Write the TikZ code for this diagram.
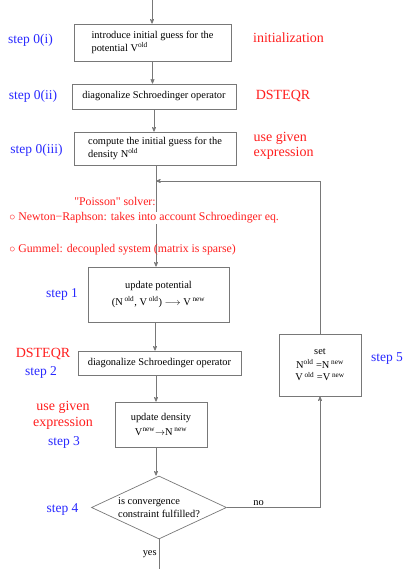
\documentclass[tikz,border=0pt]{standalone}
\usepackage{fontspec}
\setmainfont{Liberation Serif}[Ligatures=TeXOff]
\usetikzlibrary{arrows,shapes.geometric}
\definecolor{stepblue}{RGB}{40,40,255}
\definecolor{notered}{RGB}{255,30,30}
\definecolor{linegray}{RGB}{120,120,120}
\newcommand{\up}[1]{\textsuperscript{#1}}

\begin{document}
\begin{tikzpicture}[x=1pt,y=-1pt,>=stealth',line width=0.7pt]
          \tikzstyle{block}=[draw=linegray,rectangle,inner sep=0pt,font=\fontsize{10.4}{12.5}\selectfont]
          \tikzstyle{decision}=[draw=linegray,diamond,aspect=2.14,inner sep=0pt,align=left,font=\fontsize{10.4}{12.5}\selectfont]
          \tikzstyle{steplabel}=[text=stepblue,font=\fontsize{13.5}{15}\selectfont]
          \tikzstyle{method}=[text=notered,font=\fontsize{14}{15.5}\selectfont]
          \tikzstyle{remark}=[text=notered,font=\fontsize{11.8}{14}\selectfont,inner sep=1pt]
          \tikzstyle{flow}=[draw=linegray,->]
          \useasboundingbox (0,0) rectangle (404,569);

          % boxes of the scheme
          \node[block,align=left,minimum width=157,minimum height=37] (guess)  at (152.5,42.5) {introduce initial guess for the\\potential V\up{old}};
          \node[block,minimum width=164,minimum height=25]            (diag0)  at (154,96.5)   {diagonalize Schroedinger operator};
          \node[block,align=left,minimum width=162,minimum height=33] (dens0)  at (155,148.5)  {compute the initial guess for the\\density N\up{old}};
          \node[block,align=center,minimum width=141,minimum height=55] (pot)  at (158.5,294.5) {update potential\\[4pt](N\,\up{old}, V\,\up{old}) $\longrightarrow$ V\,\up{new}};
          \node[block,minimum width=163,minimum height=24]            (diag)   at (159.5,363)   {diagonalize Schroedinger operator};
          \node[block,align=center,minimum width=92,minimum height=45] (dens)  at (161,424.5)   {update density\\[2pt]V\up{new}$\rightarrow$N\,\up{new}};
          \node[block,align=center,minimum width=82,minimum height=62] (set)   at (320,365)     {set\\[1pt]N\up{old} =N\,\up{new}\\V\,\up{old} =V\,\up{new}};
          \node[decision,minimum width=135,minimum height=63]         (test)   at (159,507.5)   {is convergence\\constraint fulfilled?};

          \coordinate (spine) at (155,0);
          \coordinate (entry) at (152,0);
          \coordinate (join)  at (156,181);
          \coordinate (exit)  at (159,569);

          % connectors
          \draw[flow] (entry) -- (entry |- guess.north);
          \draw[flow] (guess.south) -- (guess.south |- diag0.north);
          \draw[flow] (diag0.south) -- (diag0.south |- dens0.north);
          \draw[flow] (dens0.south -| join) -- (join |- pot.north);
          \draw[flow] (spine |- pot.south) -- (spine |- diag.north);
          \draw[flow] (join |- diag.south) -- (join |- dens.north);
          \draw[flow] (join |- dens.south) -- (join |- test.north);
          \draw[flow] (set.north) |- (join);
          \draw[flow] (test.east) -| node[pos=0.17,above,text=black,inner sep=2pt,font=\fontsize{10.4}{12}\selectfont] {no} (set.south);
          \draw[draw=linegray] (test.south) -- node[left,text=black,inner sep=2pt,font=\fontsize{10.4}{12}\selectfont] {yes} (exit);

          % step numbers
          \node[steplabel] (s0i)   at (30.5,40)  {step 0(i)};
          \node[steplabel] (s0ii)  at (33,96)    {step 0(ii)};
          \node[steplabel] (s0iii) at (36.5,150) {step 0(iii)};
          \node[steplabel] (s1)    at (62,294)   {step 1};
          \node[steplabel] (s2)    at (41,372)   {step 2};
          \node[steplabel] (s3)    at (64,442)   {step 3};
          \node[steplabel] (s4)    at (62.5,509) {step 4};
          \node[steplabel] (s5)    at (387,359)  {step 5};

          % methods used
          \node[method] (initn)  at (288.5,38) {initialization};
          \node[method] (lapack0) at (283,96)  {DSTEQR};
          \node[method,align=left,anchor=west] (expr0) at (250,146) {use given\\expression};
          \node[method] (lapack) at (43,354)   {DSTEQR};
          \node[method,align=center] (expr) at (63,415.5) {use given\\expression};

          \node[remark] (poisson) at (115,201) {"Poisson" solver:};
          \node[remark,anchor=west,fill=white] (newton) at (8,218) {$\circ$ Newton−Raphson: takes into account Schroedinger eq.};
          \node[remark,anchor=west] (gummel) at (8,250) {$\circ$ Gummel: decoupled system (matrix is sparse)};
\end{tikzpicture}
\end{document}
